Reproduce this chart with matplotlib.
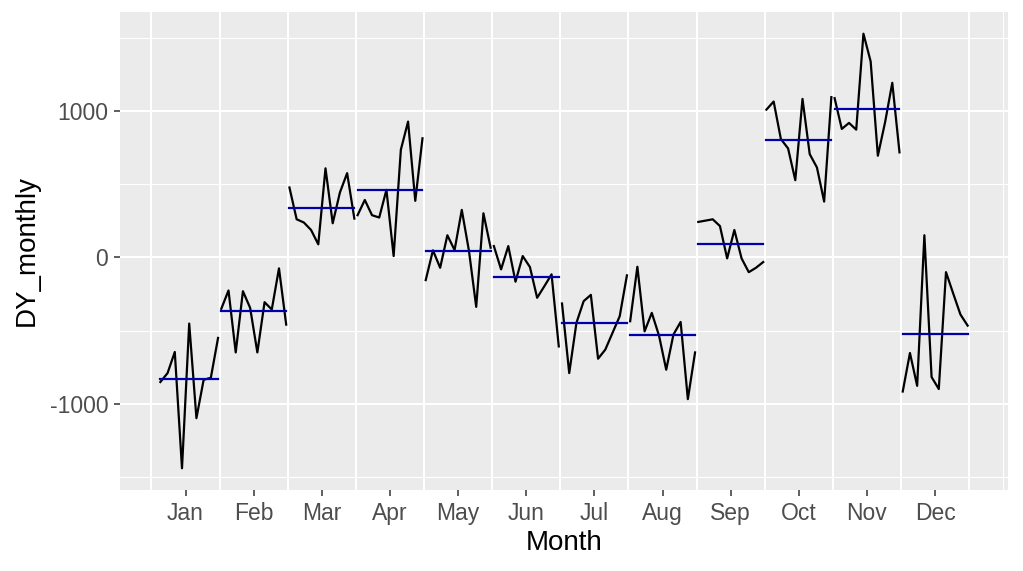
import matplotlib
matplotlib.use("Agg")
import matplotlib.pyplot as plt
import numpy as np

plt.rcParams['font.family'] = ['Liberation Sans', 'DejaVu Sans']

months = ["Jan", "Feb", "Mar", "Apr", "May", "Jun",
          "Jul", "Aug", "Sep", "Oct", "Nov", "Dec"]

# values per month, one per year (series starts in Feb of year 1, so Jan has 9)
jan = [-851, -790, -646, -1440, -452, -1098, -836, -822, -550]
feb = [-351, -226, -649, -231, -345, -649, -306, -356, -75, -459]
mar = [477, 260, 238, 187, 89, 608, 233, 443, 575, 265]
apr = [288, 392, 288, 272, 461, 9, 735, 927, 386, 813]
may = [-155, 48, -71, 151, 50, 324, 43, -338, 301, 66]
jun = [77, -82, 77, -166, 9, -66, -276, -197, -116, -608]
jul = [-315, -790, -447, -299, -256, -692, -630, -516, -402, -123]
aug = [-436, -64, -505, -379, -534, -767, -527, -441, -968, -649]
sep = [242, 251, 260, 214, -7, 187, -7, -101, -71, -32]
oct_ = [1009, 1064, 808, 744, 527, 1082, 705, 614, 381, 1094]
nov = [1087, 877, 918, 872, 1527, 1338, 694, 922, 1192, 717]
dec = [-916, -653, -877, 151, -817, -899, -101, -247, -390, -466]

series = [jan, feb, mar, apr, may, jun, jul, aug, sep, oct_, nov, dec]
n_years = 10

fig = plt.figure(figsize=(10.23, 5.71), dpi=100)
ax = fig.add_axes([120 / 1023, 81 / 571, 888 / 1023, 478 / 571])
ax.set_facecolor('#EBEBEB')
for s in ax.spines.values():
    s.set_visible(False)

# same layout as forecast::ggsubseriesplot
seasonwidth = (n_years - 1) * 1.05
allx = []
ally = []
for i, vals in enumerate(series):
    season = i + 1
    yrs = np.arange(n_years - len(vals), n_years)
    x = season + 0.025 + yrs / seasonwidth
    allx += list(x)
    ally += list(vals)
    ax.plot(x, vals, color='black', lw=1.6, zorder=3)
    ax.plot([x[0], x[-1]], [np.mean(vals)] * 2, color='#0000AA', lw=1.6, zorder=4)

xr = max(allx) - min(allx)
yr = max(ally) - min(ally)
ax.set_xlim(min(allx) - 0.05 * xr, max(allx) + 0.05 * xr)
ax.set_ylim(min(ally) - 0.05 * yr, max(ally) + 0.05 * yr)

# grid
for v in [-1000, 0, 1000]:
    ax.axhline(v, color='white', lw=1.5, zorder=1)
for v in [-1500, -500, 500, 1500]:
    ax.axhline(v, color='white', lw=0.8, zorder=1)
for v in range(1, 14):
    ax.axvline(v, color='white', lw=1.5, zorder=1)
ax.axvline(13.5, color='white', lw=0.8, zorder=1)

ax.set_xticks(np.arange(1, 13) + 0.5)
ax.set_xticklabels(months)
ax.set_yticks([-1000, 0, 1000])
ax.set_yticklabels(['-1000', '0', '1000'])
ax.tick_params(axis='both', length=4.5, width=1.1, color='#333333',
               labelcolor='#4D4D4D', labelsize=16.5, pad=4)

ax.set_xlabel("Month", fontsize=20, labelpad=4)
ax.set_ylabel("DY_monthly", fontsize=20, labelpad=7)

fig.savefig("out.png", dpi=100)
